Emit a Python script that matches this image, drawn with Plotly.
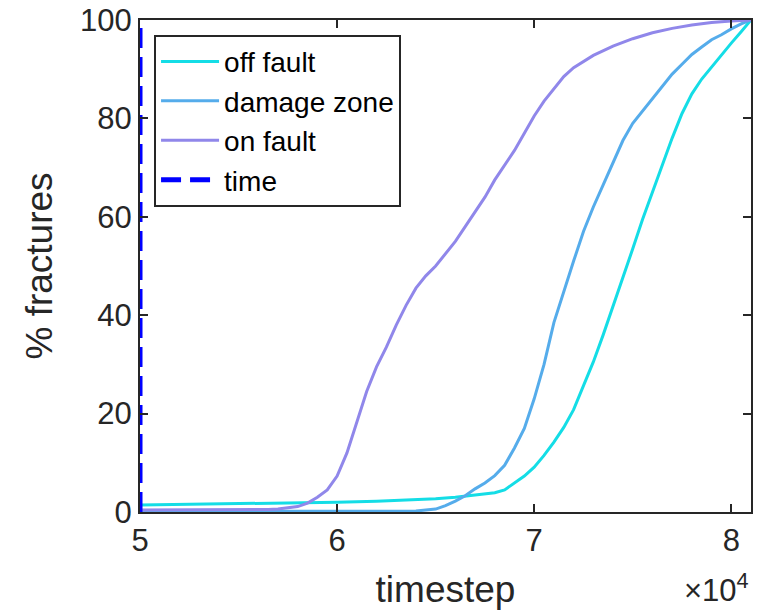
import plotly.graph_objects as go

# timestep values (x1e4) and % fractures
off_x = [5.0, 5.2, 5.4, 5.6, 5.8, 6.0, 6.2, 6.4, 6.5, 6.6, 6.7, 6.8, 6.85, 6.9, 6.95,
         7.0, 7.05, 7.1, 7.15, 7.2, 7.25, 7.3, 7.35, 7.4, 7.45, 7.5, 7.55, 7.6, 7.65,
         7.7, 7.75, 7.8, 7.85, 7.9, 7.95, 8.0, 8.05, 8.1]
off_y = [1.4, 1.5, 1.6, 1.7, 1.8, 2.0, 2.2, 2.5, 2.7, 3.0, 3.4, 3.9, 4.5, 5.9, 7.3,
         9.1, 11.5, 14.2, 17.2, 20.8, 25.5, 30.5, 36, 41.7, 47.5, 53.5, 59.5, 65, 70.5,
         76, 81, 85, 88, 90.5, 93, 95.3, 97.6, 100]

dmg_x = [5.0, 5.5, 6.0, 6.3, 6.4, 6.5, 6.55, 6.6, 6.65, 6.7, 6.75, 6.8, 6.85, 6.9, 6.95,
         7.0, 7.05, 7.1, 7.15, 7.2, 7.25, 7.3, 7.35, 7.4, 7.45, 7.5, 7.55, 7.6, 7.65,
         7.7, 7.75, 7.8, 7.85, 7.9, 7.95, 8.0, 8.05, 8.1]
dmg_y = [0.1, 0.1, 0.1, 0.1, 0.2, 0.6, 1.3, 2.2, 3.3, 4.7, 5.9, 7.4, 9.5, 13, 17,
         23, 30, 38.5, 45, 51, 57, 62, 66.5, 71, 75.5, 79, 81.5, 83.8, 86.4,
         89, 91, 93, 94.5, 96, 97, 98.2, 99.2, 100]

on_x = [5.0, 5.3, 5.5, 5.65, 5.7, 5.75, 5.8, 5.85, 5.9, 5.95, 6.0, 6.05, 6.1, 6.15, 6.2,
        6.25, 6.3, 6.35, 6.4, 6.45, 6.5, 6.55, 6.6, 6.65, 6.7, 6.75, 6.8, 6.85, 6.9,
        6.95, 7.0, 7.05, 7.1, 7.15, 7.2, 7.3, 7.4, 7.5, 7.6, 7.7, 7.8, 7.9, 8.0, 8.1]
on_y = [0.4, 0.4, 0.5, 0.5, 0.6, 0.8, 1.1, 1.8, 3.0, 4.5, 7.3, 12, 18.5, 24.5, 29.5,
        33.5, 38, 42, 45.5, 48, 50, 52.5, 55, 58, 61, 64, 67.5, 70.5, 73.5,
        77, 80.5, 83.5, 86, 88.5, 90.3, 92.8, 94.7, 96.2, 97.4, 98.3, 99, 99.5, 99.8, 100]

time_x = [5.0, 5.0]
time_y = [0, 100]

x_ticks = [5, 6, 7, 8]
x_ticktext = ["5", "6", "7", "8"]
y_ticks = [0, 20, 40, 60, 80, 100]

scale = 1e4
FONT = "Liberation Sans, Arial, Helvetica, sans-serif"
INK = "#262626"

fig = go.Figure()
fig.add_trace(go.Scatter(x=[v * scale for v in off_x], y=off_y, mode="lines",
                         name="off fault", line=dict(color="#14DDE6", width=3)))
fig.add_trace(go.Scatter(x=[v * scale for v in dmg_x], y=dmg_y, mode="lines",
                         name="damage zone", line=dict(color="#55ACEB", width=3)))
fig.add_trace(go.Scatter(x=[v * scale for v in on_x], y=on_y, mode="lines",
                         name="on fault", line=dict(color="#9087EA", width=3)))
fig.add_trace(go.Scatter(x=[v * scale for v in time_x], y=time_y, mode="lines",
                         name="time", line=dict(color="#0000FF", width=5, dash="20px,9px")))

axis_common = dict(showline=True, linecolor=INK, linewidth=2, mirror="ticks",
                   ticks="inside", ticklen=8, tickwidth=2, tickcolor=INK,
                   showgrid=False, zeroline=False, automargin=False,
                   tickfont=dict(family=FONT, size=31, color=INK))

fig.update_layout(
    width=763, height=614,
    margin=dict(l=140, r=12, t=20, b=102),
    paper_bgcolor="white", plot_bgcolor="white",
    font=dict(family=FONT, color=INK),
    xaxis=dict(range=[5.0 * scale, 8.1 * scale], tickvals=[v * scale for v in x_ticks],
               ticktext=x_ticktext,
               title=dict(text="timestep", font=dict(family=FONT, size=37, color=INK),
                          standoff=19),
               **axis_common),
    yaxis=dict(range=[0, 100], tickvals=y_ticks,
               title=dict(text="% fractures", font=dict(family=FONT, size=37, color=INK),
                          standoff=16),
               **axis_common),
    legend=dict(x=0.023, y=0.97, xanchor="left", yanchor="top",
                bgcolor="white", bordercolor=INK, borderwidth=2,
                font=dict(family=FONT, size=28, color="#000000"),
                tracegroupgap=0, itemwidth=58),
    showlegend=True,
)

fig.add_annotation(text="×10<sup>4</sup>", xref="paper", yref="paper",
                   x=1.0, y=-0.2, xanchor="right", yanchor="bottom",
                   showarrow=False, font=dict(family=FONT, size=31, color=INK))

fig.write_html("out.html")
